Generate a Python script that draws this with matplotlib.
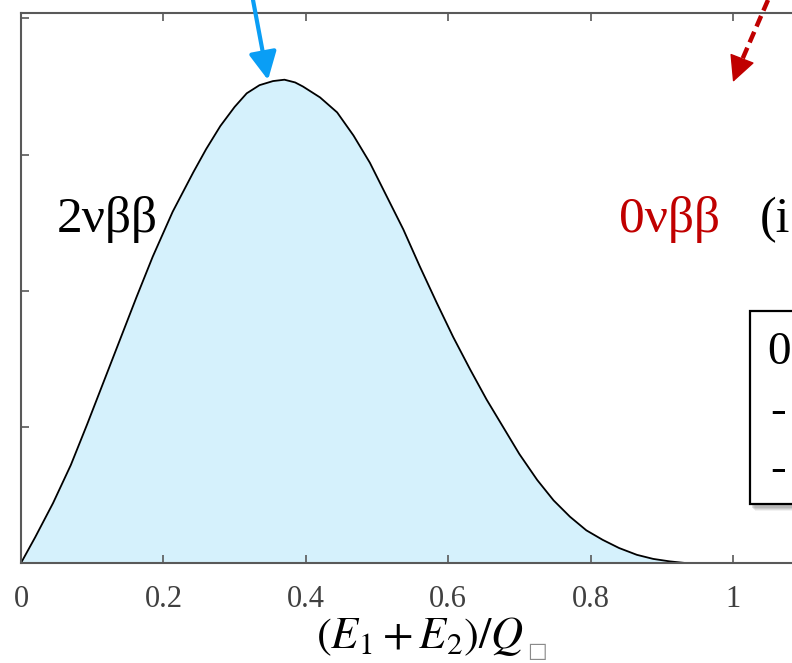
import matplotlib
matplotlib.use("Agg")
import matplotlib.pyplot as plt
from matplotlib.patches import Rectangle, FancyArrowPatch
from matplotlib.lines import Line2D

# summed electron energy spectrum (2 neutrino mode)
energy = [0, 0.02, 0.045, 0.07, 0.093, 0.116, 0.139, 0.162, 0.185, 0.213, 0.242,
          0.26, 0.28, 0.30, 0.317, 0.335, 0.354, 0.37, 0.385, 0.396, 0.42, 0.444,
          0.467, 0.49, 0.513, 0.537, 0.56, 0.584, 0.607, 0.631, 0.654, 0.677,
          0.70, 0.725, 0.748, 0.771, 0.794, 0.817, 0.84, 0.865, 0.888, 0.911, 0.933]
rate = [0, 0.19, 0.44, 0.72, 1.02, 1.33, 1.64, 1.95, 2.25, 2.58, 2.87,
        3.04, 3.21, 3.35, 3.45, 3.51, 3.54, 3.55, 3.53, 3.50, 3.42, 3.31,
        3.14, 2.94, 2.70, 2.45, 2.18, 1.91, 1.66, 1.42, 1.20, 1.00,
        0.80, 0.61, 0.46, 0.34, 0.24, 0.17, 0.11, 0.06, 0.03, 0.012, 0]

xticks = [0, 0.2, 0.4, 0.6, 0.8, 1.0]
xticklabels = ["0", "0.2", "0.4", "0.6", "0.8", "1"]
yticks = [0, 1, 2, 3, 4]

plt.rcParams["mathtext.fontset"] = "stix"
serif = ["Liberation Serif", "DejaVu Serif"]

W, H = 792, 663
fig = plt.figure(figsize=(W / 100, H / 100), dpi=100)
fig.patch.set_facecolor("white")

ax = fig.add_axes([21 / W, 100 / H, 1.2 * 712 / W, 550 / H])
ax.fill_between(energy, rate, color="#d5f1fc", lw=0)
ax.plot(energy, rate, color="black", lw=1.3)
ax.set_xlim(0, 1.2)
ax.set_ylim(0, 4.04)

for s in ["left", "bottom", "top"]:
    ax.spines[s].set_color("#595959")
    ax.spines[s].set_linewidth(1.5)
ax.spines["right"].set_visible(False)

ax.set_xticks(xticks)
ax.set_xticklabels(xticklabels, fontfamily=serif, fontsize=22, color="#404040")
ax.set_yticks(yticks)
ax.tick_params(direction="in", length=6, width=1.2, color="#595959",
               top=True, right=False, labelleft=False, pad=16)

# labels on the plot
ax.text(0.05, 2.52, "2νββ", fontfamily=serif, fontsize=37, color="black",
        ha="left", va="center")
ax.text(0.84, 2.52, "0νββ", fontfamily=serif, fontsize=37, color="#c00000",
        ha="left", va="center")
ax.text(1.037, 2.52, "(i", fontfamily=serif, fontsize=36, color="black",
        ha="left", va="center")

fig.text(420 / W, 1 - 637 / H, r"$(E_1 + E_2)/Q$", fontsize=32,
         ha="center", va="center", color="black")
fig.text(527 / W, 1 - 651 / H, "□", fontfamily="DejaVu Sans", fontsize=15,
         ha="left", va="center", color="#8a8a8a")

# arrows coming from above
fig.add_artist(FancyArrowPatch(
    (253 / W, 1.0), (268 / W, 1 - 80 / H), transform=fig.transFigure,
    arrowstyle="-|>,head_length=1.2,head_width=0.6", mutation_scale=14,
    color="#0a9ef5", lw=3, shrinkA=0, shrinkB=0))

# red dashed shaft plus a solid head
red = "#c00000"
fig.add_artist(Line2D([768 / W, 739 / W], [1.0, 1 - 67 / H],
                      transform=fig.transFigure, color=red, lw=3.2,
                      ls=(0, (2.6, 1.3))))
fig.add_artist(FancyArrowPatch(
    (740 / W, 1 - 64 / H), (733 / W, 1 - 82 / H), transform=fig.transFigure,
    arrowstyle="-|>,head_length=1.2,head_width=0.6", mutation_scale=14,
    color=red, lw=1, shrinkA=0, shrinkB=0))

# box on the right (cut by the edge)
for k, a in enumerate([0.25, 0.2, 0.15, 0.1]):
    fig.add_artist(Rectangle(((752 + k) / W, 1 - (508 + k) / H), 100 / W, 195 / H,
                             transform=fig.transFigure, facecolor="#808080",
                             edgecolor="none", alpha=a))
fig.add_artist(Rectangle((750 / W, 1 - 504 / H), 100 / W, 193 / H,
                         transform=fig.transFigure, facecolor="white",
                         edgecolor="black", lw=1.6))
fig.text(767 / W, 1 - 353 / H, "0", fontfamily=serif, fontsize=34,
         ha="left", va="center")
fig.text(770 / W, 1 - 412 / H, "-", fontfamily=serif, fontsize=34,
         ha="left", va="center")
fig.text(770 / W, 1 - 470 / H, "-", fontfamily=serif, fontsize=34,
         ha="left", va="center")

fig.savefig("out.png", dpi=100)
